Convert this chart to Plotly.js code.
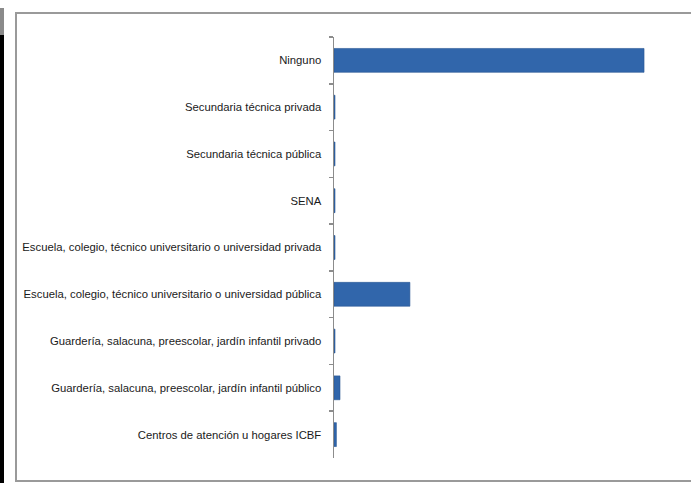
<!DOCTYPE html>
<html>
<head>
<meta charset="utf-8">
<script src="https://cdn.plot.ly/plotly-3.0.1.min.js"></script>
<style>
  html, body { margin: 0; padding: 0; background: #ffffff; }
  #chart { width: 691px; height: 483px; }
</style>
</head>
<body>
<div id="chart"></div>
<script>
// Categories, top to bottom as shown in the chart
const categories = [
  "Ninguno",
  "Secundaria técnica privada",
  "Secundaria técnica pública",
  "SENA",
  "Escuela, colegio, técnico universitario o universidad privada",
  "Escuela, colegio, técnico universitario o universidad pública",
  "Guardería, salacuna, preescolar, jardín infantil privado",
  "Guardería, salacuna, preescolar, jardín infantil público",
  "Centros de atención u hogares ICBF"
];
// Estimated shares (%)
const values = [77.6, 0.25, 0.25, 0.25, 0.25, 19.0, 0.25, 1.5, 0.6];

const W = 691, H = 483;
const mL = 334, mR = 11, mT = 37, mB = 25;
const pw = W - mL - mR, ph = H - mT - mB;
const px = v => (v - mL) / pw;
const py = v => (H - mB - v) / ph;

const trace = {
  type: "bar",
  orientation: "h",
  y: categories,
  x: values,
  marker: { color: "#3166ab", line: { color: "#2a5793", width: 0.6 } },
  hoverinfo: "x+y"
};

const layout = {
  width: W,
  height: H,
  margin: { l: mL, r: mR, t: mT, b: mB, pad: 0 },
  paper_bgcolor: "#ffffff",
  plot_bgcolor: "#ffffff",
  showlegend: false,
  bargap: 0.49,
  font: { family: "'Liberation Sans Narrow', 'Arial Narrow', 'Liberation Sans', Arial, sans-serif", size: 11.3, color: "#1a1a1a" },
  xaxis: {
    range: [0, 86.6],
    visible: false,
    showgrid: false,
    zeroline: false,
    fixedrange: true
  },
  yaxis: {
    type: "category",
    autorange: "reversed",
    showline: true,
    linecolor: "#8c8c8c",
    linewidth: 1.5,
    ticks: "outside",
    tickson: "boundaries",
    ticklen: 4,
    tickcolor: "#8c8c8c",
    tickwidth: 1.5,
    ticklabelstandoff: 9,
    showgrid: false,
    zeroline: false,
    fixedrange: true
  },
  shapes: [
    { type: "rect", xref: "paper", yref: "paper",
      x0: px(16), x1: px(700), y0: py(481), y1: py(13),
      line: { color: "#9a9a9a", width: 2 }, fillcolor: "rgba(0,0,0,0)", layer: "below" },
    { type: "line", xref: "paper", yref: "paper",
      x0: px(2), x1: px(2), y0: py(35), y1: py(483),
      line: { color: "#000000", width: 4 } },
    { type: "line", xref: "paper", yref: "paper",
      x0: px(2), x1: px(2), y0: py(8), y1: py(35),
      line: { color: "#8a8a8a", width: 4 } }
  ]
};

Plotly.newPlot("chart", [trace], layout, { displayModeBar: false, staticPlot: true });
</script>
</body>
</html>
